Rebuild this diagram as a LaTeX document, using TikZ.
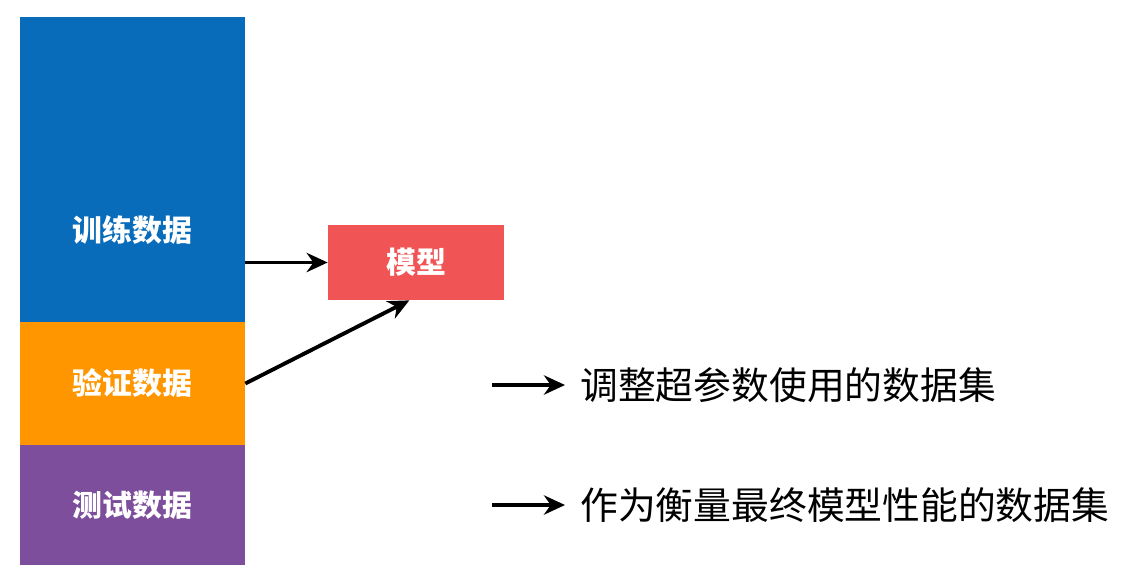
\documentclass[tikz,border=0pt]{standalone}
\usepackage{fontspec}
\newfontfamily\cjk{Noto Sans CJK SC}
\usetikzlibrary{arrows.meta}
\definecolor{trainblue}{RGB}{8,108,186}
\definecolor{valorange}{RGB}{255,150,0}
\definecolor{testpurple}{RGB}{124,78,156}
\definecolor{modelred}{RGB}{240,84,84}

\begin{document}
\begin{tikzpicture}[x=0.02cm,y=-0.02cm]
  \tikzset{DATA/.style={minimum width=4.5cm, inner sep=0pt, font=\cjk\bfseries\fontsize{17}{20}\selectfont, text=white}}
  \tikzset{ARR/.style={-{Stealth[length=12pt,width=11pt]}, line width=2.2pt}}
  \tikzset{NOTE/.style={anchor=west, inner sep=0pt, font=\cjk\fontsize{21.5}{24}\selectfont}}

  \useasboundingbox (0,0) rectangle (1142,586);

  \node[DATA, fill=trainblue, minimum height=6.1cm] (train) at (132.5,169.5) {};
  \node[DATA] (trainlabel) at (132.5,230) {训练数据};
  \node[DATA, fill=valorange, minimum height=2.46cm] (val) at (132.5,383.5) {验证数据};
  \node[DATA, fill=testpurple, minimum height=2.4cm] (test) at (132.5,505) {测试数据};

  \node[DATA, fill=modelred, minimum width=3.52cm, minimum height=1.5cm] (model) at (416,262.5) {模型};

  \draw[ARR] (train.east |- model.west) -- (model.west);
  \draw[ARR] (val.east) -- ([xshift=-1.9cm]model.south east);

  \coordinate (a1) at (492,385);
  \coordinate (a2) at (492,505);
  \node[NOTE] (hyper) at (580,385) {调整超参数使用的数据集};
  \node[NOTE] (final) at (580,505) {作为衡量最终模型性能的数据集};
  \draw[ARR] (a1) -- ([xshift=-0.3cm]hyper.west);
  \draw[ARR] (a2) -- ([xshift=-0.3cm]final.west);
\end{tikzpicture}
\end{document}
